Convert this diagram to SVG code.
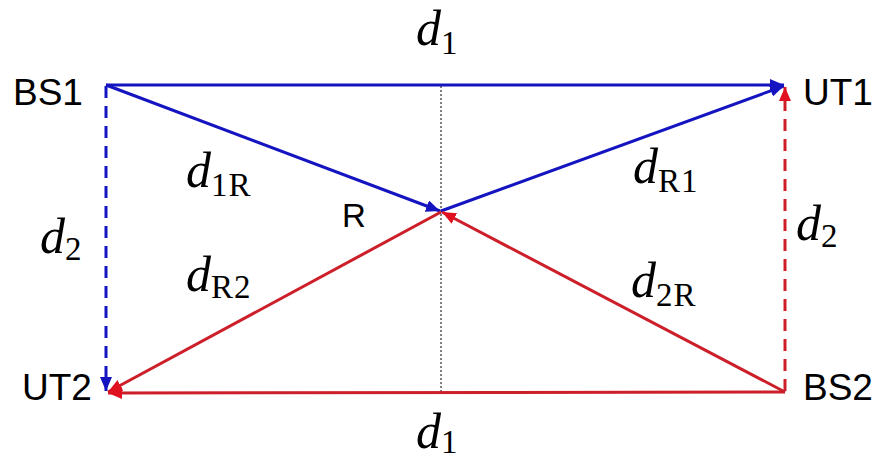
<svg xmlns="http://www.w3.org/2000/svg" width="881" height="461" viewBox="0 0 881 461">
<style>
.lbl{font-family:"Liberation Sans",Arial,sans-serif;font-size:37px;fill:#000}
.m{font-family:"Liberation Serif","Times New Roman",serif;font-size:50px;font-style:italic;fill:#000}
.s{font-style:normal;font-size:33px;letter-spacing:1px}
.b{stroke:#1414c0;stroke-width:3;fill:none}
.r{stroke:#cc1f2a;stroke-width:3;fill:none}
.dash{stroke-dasharray:12 8}
</style>
<defs>
<marker id="ab" markerUnits="userSpaceOnUse" markerWidth="16" markerHeight="14" refX="14" refY="6" orient="auto"><path d="M0,0 L14,6 L0,12 z" fill="#1414c0"/></marker>
<marker id="ar" markerUnits="userSpaceOnUse" markerWidth="16" markerHeight="14" refX="14" refY="6" orient="auto"><path d="M0,0 L14,6 L0,12 z" fill="#e01020"/></marker>
</defs>
<g id="connectors">
<line x1="441" y1="86" x2="441" y2="392" stroke="#000" stroke-width="1" stroke-dasharray="2 2"/>
<line class="b" x1="106" y1="85" x2="784" y2="85" marker-end="url(#ab)"/>
<line class="b" x1="106" y1="85" x2="440" y2="211" marker-end="url(#ab)"/>
<line class="b" x1="441" y1="211" x2="784" y2="86" marker-end="url(#ab)"/>
<line class="b dash" x1="106" y1="86" x2="106" y2="391" marker-end="url(#ab)"/>
<line class="r" x1="785" y1="392" x2="108" y2="393" marker-end="url(#ar)"/>
<line class="r" x1="785" y1="392" x2="442" y2="212" marker-end="url(#ar)"/>
<line class="r" x1="441" y1="212" x2="108" y2="392" marker-end="url(#ar)"/>
<line class="r dash" x1="785" y1="391" x2="785" y2="87" marker-end="url(#ar)"/>
</g>
<g id="BS1"><text class="lbl" x="13" y="105">BS1</text></g>
<g id="UT1"><text class="lbl" x="803" y="105">UT1</text></g>
<g id="UT2"><text class="lbl" x="22" y="400">UT2</text></g>
<g id="BS2"><text class="lbl" x="803" y="400">BS2</text></g>
<g id="R"><text class="lbl" x="342" y="227" style="font-size:33px">R</text></g>
<g id="labels">
<text class="m" x="416" y="45">d<tspan class="s" dy="9">1</tspan></text>
<text class="m" x="416" y="448">d<tspan class="s" dy="5">1</tspan></text>
<text class="m" x="186" y="187">d<tspan class="s" dy="9">1R</tspan></text>
<text class="m" x="40" y="253">d<tspan class="s" dy="7">2</tspan></text>
<text class="m" x="186" y="291">d<tspan class="s" dy="7">R2</tspan></text>
<text class="m" x="633" y="183">d<tspan class="s" dy="9">R1</tspan></text>
<text class="m" x="796" y="240">d<tspan class="s" dy="7">2</tspan></text>
<text class="m" x="631" y="297">d<tspan class="s" dy="9">2R</tspan></text>
</g>
</svg>
